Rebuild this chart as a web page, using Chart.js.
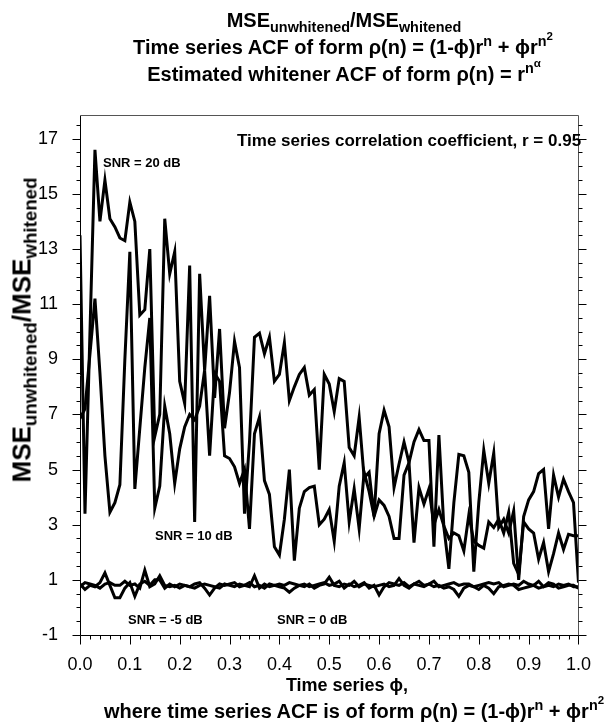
<!DOCTYPE html>
<html>
<head>
<meta charset="utf-8">
<script src="https://cdn.jsdelivr.net/npm/chart.js@4.4.1/dist/chart.umd.min.js"></script>
<style>
  body { margin: 0; background: #fff; }
  #wrap { position: relative; width: 610px; height: 728px; font-family: "Liberation Sans", Arial, sans-serif; color: #000; }
  #wrap canvas { position: absolute; left: 0; top: 0; }
  .t { position: absolute; white-space: nowrap; font-weight: bold; transform: translate(-50%, -50%); }
  .l { position: absolute; white-space: nowrap; font-weight: bold; transform: translateY(-50%); }
  .title { font-size: 20px; }
  .ytitle { font-size: 26px; }
  .ann { font-size: 17px; }
  .snr { font-size: 13px; }
  sub, sup { font-size: 0.72em; line-height: 0; }
  sup sup { font-size: 0.8em; }
</style>
</head>
<body>
<div id="wrap">
  <canvas id="myChart" width="610" height="728"></canvas>
  <div class="t title" style="left:344px; top:20px">MSE<sub>unwhitened</sub>/MSE<sub>whitened</sub></div>
  <div class="t title" style="left:343px; top:47px">Time series ACF of form &rho;(n) = (1-&#981;)r<sup>n</sup> + &#981;r<sup>n<sup>2</sup></sup></div>
  <div class="t title" style="left:344px; top:74px">Estimated whitener ACF of form &rho;(n) = r<sup>n<sup>&alpha;</sup></sup></div>
  <div class="t ytitle" style="left:22px; top:330px; transform: translate(-50%, -50%) rotate(-90deg)">MSE<sub>unwhitened</sub>/MSE<sub>whitened</sub></div>
  <div class="t" style="left:347px; top:685px; font-size:18px">Time series &#981;,</div>
  <div class="t title" style="left:354px; top:711px">where time series ACF is of form &rho;(n) = (1-&#981;)r<sup>n</sup> + &#981;r<sup>n<sup>2</sup></sup></div>
  <div class="l ann" style="left:237px; top:141px">Time series correlation coefficient, r = 0.95</div>
  <div class="l snr" style="left:103px; top:162px">SNR = 20 dB</div>
  <div class="l snr" style="left:155px; top:535px">SNR = 10 dB</div>
  <div class="l snr" style="left:128px; top:619px">SNR = -5 dB</div>
  <div class="l snr" style="left:277px; top:619px">SNR = 0 dB</div>
</div>
<script>
// time series phi, one point per 0.01
const PHI = [
  0.00, 0.01, 0.02, 0.03, 0.04, 0.05, 0.06, 0.07, 0.08, 0.09,
  0.10, 0.11, 0.12, 0.13, 0.14, 0.15, 0.16, 0.17, 0.18, 0.19,
  0.20, 0.21, 0.22, 0.23, 0.24, 0.25, 0.26, 0.27, 0.28, 0.29,
  0.30, 0.31, 0.32, 0.33, 0.34, 0.35, 0.36, 0.37, 0.38, 0.39,
  0.40, 0.41, 0.42, 0.43, 0.44, 0.45, 0.46, 0.47, 0.48, 0.49,
  0.50, 0.51, 0.52, 0.53, 0.54, 0.55, 0.56, 0.57, 0.58, 0.59,
  0.60, 0.61, 0.62, 0.63, 0.64, 0.65, 0.66, 0.67, 0.68, 0.69,
  0.70, 0.71, 0.72, 0.73, 0.74, 0.75, 0.76, 0.77, 0.78, 0.79,
  0.80, 0.81, 0.82, 0.83, 0.84, 0.85, 0.86, 0.87, 0.88, 0.89,
  0.90, 0.91, 0.92, 0.93, 0.94, 0.95, 0.96, 0.97, 0.98, 0.99, 1.00
];

const SNR20 = [
  13.5, 3.4, 10.0, 16.6, 14.0, 15.5, 14.1, 13.8, 13.4, 13.3,
  14.7, 14.0, 10.6, 10.8, 13.0, 6.2, 7.0, 14.1, 12.1, 12.9,
  8.2, 7.4, 12.4, 3.1, 12.1, 8.6, 11.3, 7.6, 10.1, 6.5,
  7.8, 9.65, 8.7, 3.4, 6.0, 9.8, 9.95, 9.2, 9.8, 8.2,
  8.45, 9.6, 7.5, 8.0, 8.45, 8.7, 7.7, 7.9, 5.0, 8.45,
  8.1, 7.1, 8.3, 8.2, 5.8, 5.5, 6.9, 4.7, 4.9, 3.3,
  6.3, 7.15, 6.55, 4.35, 5.2, 6.0, 5.25, 6.0, 6.45, 6.05,
  6.05, 2.2, 6.25, 2.9, 1.4, 3.8, 5.55, 5.5, 4.9, 1.3,
  3.8, 5.7, 4.5, 5.6, 2.9, 3.2, 2.7, 3.5, 1.0, 3.3,
  3.9, 4.2, 4.85, 5.0, 2.85, 4.8, 4.0, 4.65, 4.2, 3.8, 0.9
];

const SNR10 = [
  6.85, 7.2, 9.2, 11.2, 8.5, 5.5, 3.45, 3.8, 4.45, 9.0,
  12.9, 4.3, 6.5, 8.7, 10.5, 3.6, 4.4, 7.3, 6.3, 4.5,
  5.75, 6.55, 7.0, 6.8, 7.3, 8.6, 5.5, 8.5, 8.2, 5.5,
  5.4, 5.1, 4.5, 5.0, 2.85, 6.3, 6.9, 4.6, 4.1, 2.2,
  1.9, 3.2, 5.0, 1.7, 3.6, 4.2, 4.35, 4.4, 3.0, 3.2,
  3.55, 2.4, 4.4, 5.25, 3.1, 4.3, 2.85, 4.9, 4.2, 3.3,
  3.9, 3.7, 3.3, 2.5, 2.5, 4.8, 5.25, 2.35, 4.35, 3.75,
  4.3, 3.0, 3.55, 2.95, 2.5, 2.7, 2.6, 2.05, 3.35, 2.4,
  2.25, 2.15, 3.1, 2.9, 3.2, 2.7, 3.45, 1.6, 1.2, 3.1,
  2.85, 2.7, 1.75, 2.35, 1.3, 1.95, 2.7, 2.1, 2.65, 2.6, 2.6
];

const SNR0 = [
  0.75, 0.9, 0.85, 0.8, 0.7, 0.85, 0.9, 0.8, 0.8, 0.95,
  0.8, 0.85, 0.7, 1.35, 0.75, 0.85, 1.15, 0.8, 0.75, 0.8,
  0.7, 0.8, 0.75, 0.7, 0.8, 0.85, 0.8, 0.75, 0.7, 0.85,
  0.8, 0.75, 0.85, 0.8, 0.9, 0.75, 0.8, 0.7, 0.85, 0.8,
  0.85, 0.8, 0.9, 0.85, 0.8, 0.75, 0.85, 0.7, 0.8, 0.85,
  1.1, 0.8, 0.75, 0.85, 0.8, 0.95, 0.75, 0.85, 0.8, 0.75,
  0.8, 0.85, 0.75, 0.8, 1.05, 0.8, 0.7, 0.85, 0.8, 0.75,
  0.85, 0.95, 0.75, 0.8, 0.85, 0.9, 0.8, 0.85, 0.85, 0.75,
  0.8, 0.85, 0.9, 0.85, 0.9, 0.75, 0.8, 0.85, 0.8, 0.95,
  0.85, 0.8, 0.95, 0.75, 0.8, 0.75, 0.85, 0.8, 0.85, 0.75, 0.75
];

const SNR_M5 = [
  0.85, 0.65, 0.8, 0.75, 0.9, 1.25, 0.8, 0.35, 0.35, 0.7,
  0.9, 0.4, 0.85, 0.95, 0.8, 1.0, 1.0, 0.7, 0.85, 0.75,
  0.85, 0.8, 0.75, 0.85, 0.9, 0.7, 0.45, 0.7, 0.85, 0.8,
  0.85, 0.9, 0.75, 0.8, 0.75, 1.15, 0.7, 0.85, 0.75, 0.8,
  0.75, 0.7, 0.55, 0.7, 0.8, 0.85, 0.75, 0.8, 0.85, 0.9,
  0.8, 0.85, 0.95, 0.7, 0.85, 0.75, 0.8, 0.9, 0.7, 0.8,
  0.45, 0.75, 0.9, 0.85, 0.8, 0.9, 0.75, 0.85, 0.95, 0.8,
  0.85, 0.75, 0.8, 0.7, 0.75, 0.65, 0.4, 0.7, 0.8, 0.75,
  0.65, 0.8, 0.7, 0.5, 0.75, 0.8, 0.85, 0.8, 0.65, 0.7,
  0.75, 0.8, 0.7, 0.75, 0.9, 0.85, 0.7, 0.75, 0.8, 0.8, 0.7
];

const X_TICKS = [0.0, 0.1, 0.2, 0.3, 0.4, 0.5, 0.6, 0.7, 0.8, 0.9, 1.0];
const Y_TICKS = [-1, 1, 3, 5, 7, 9, 11, 13, 15, 17];
const Y_MIN = -1, Y_MAX = 17.86;

function series(values) {
  return {
    data: values.map((v, i) => ({ x: PHI[i], y: v })),
    borderColor: "#000",
    borderWidth: 3,
    pointRadius: 0,
    tension: 0,
    fill: false,
  };
}

// axis frame with major and minor tick marks, drawn outside the plot
const frame = {
  id: "frame",
  afterDraw(chart) {
    const { ctx, chartArea: a, scales } = chart;
    const x = scales.x, y = scales.y;
    const L = Math.round(a.left) + 0.5, R = Math.round(a.right) + 0.5;
    const T = Math.round(a.top) + 0.5, B = Math.round(a.bottom) + 0.5;
    ctx.save();
    ctx.lineWidth = 1;
    ctx.strokeStyle = "#000";
    ctx.beginPath();
    ctx.moveTo(L, T); ctx.lineTo(L, B); ctx.lineTo(R, B);
    ctx.stroke();
    ctx.strokeStyle = "#555";
    ctx.beginPath();
    ctx.moveTo(L, T); ctx.lineTo(R, T); ctx.lineTo(R, B);
    ctx.stroke();

    ctx.strokeStyle = "#000";
    ctx.beginPath();
    for (let i = 0; i <= 37; i++) {
      const v = -1 + i * 0.5;
      const py = Math.round(y.getPixelForValue(v)) + 0.5;
      const len = (i % 4 === 0) ? 8 : 4;
      ctx.moveTo(L, py); ctx.lineTo(L - len, py);
      ctx.moveTo(R, py); ctx.lineTo(R + len, py);
    }
    for (let i = 0; i <= 50; i++) {
      const px = Math.round(x.getPixelForValue(i * 0.02)) + 0.5;
      const len = (i % 5 === 0) ? 9 : 4;
      ctx.moveTo(px, B); ctx.lineTo(px, B + len);
    }
    ctx.stroke();
    ctx.restore();
  }
};

const tickFont = { family: "Liberation Sans", size: 18 };

new Chart(document.getElementById("myChart").getContext("2d"), {
  type: "line",
  data: {
    datasets: [series(SNR20), series(SNR10), series(SNR0), series(SNR_M5)],
  },
  options: {
    responsive: false,
    animation: false,
    layout: { padding: { top: 115, right: 13, left: 0, bottom: 0 } },
    plugins: { legend: { display: false }, tooltip: { enabled: false } },
    scales: {
      x: {
        type: "linear",
        min: 0,
        max: 1,
        afterBuildTicks: (s) => { s.ticks = X_TICKS.map((v) => ({ value: v })); },
        afterFit: (s) => { s.height = 93; },
        grid: { display: false, drawTicks: false },
        border: { display: false },
        ticks: {
          padding: 19, color: "#000", font: tickFont, autoSkip: false, maxRotation: 0,
          callback: (v) => Number(v).toFixed(1),
        },
      },
      y: {
        type: "linear",
        min: Y_MIN,
        max: Y_MAX,
        afterBuildTicks: (s) => { s.ticks = Y_TICKS.map((v) => ({ value: v })); },
        afterFit: (s) => { s.width = 80; },
        grid: { display: false, drawTicks: false },
        border: { display: false },
        ticks: { padding: 22, color: "#000", font: tickFont, autoSkip: false },
      },
    },
  },
  plugins: [frame],
});
</script>
</body>
</html>
